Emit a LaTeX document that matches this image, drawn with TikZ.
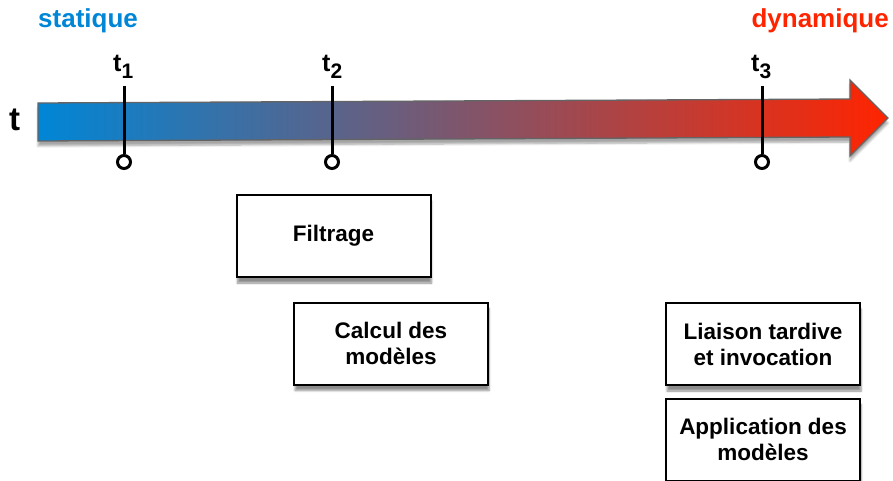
\documentclass[tikz,border=0pt]{standalone}
\usepackage{fontspec}
\setmainfont{Liberation Sans}
\usetikzlibrary{shadows.blur}
\definecolor{cblue}{RGB}{0,134,214}
\definecolor{cmid}{RGB}{150,72,135}
\definecolor{cred}{RGB}{255,36,0}
\definecolor{cedge}{RGB}{100,100,100}
\begin{document}
\begin{tikzpicture}[x=1pt,y=-1pt,
  stagebox/.style={draw=black,line width=2pt,fill=white,minimum width=194pt,minimum height=82pt,
    align=center,font=\fontsize{22.5}{26}\selectfont\bfseries,
    blur shadow={shadow blur steps=6,shadow xshift=1pt,shadow yshift=-6pt,shadow opacity=45}},
  ticklabel/.style={anchor=base west,inner sep=0pt,font=\fontsize{25}{25}\selectfont\bfseries},
  tickline/.style={line width=3pt,black},
  tickend/.style={circle,draw=black,line width=3pt,fill=white,minimum size=13pt,inner sep=0pt}]
\useasboundingbox (0,0) rectangle (893,481);
% arrow
\shade[left color=cblue,middle color=cmid,right color=cred,draw=cedge,line width=1.3pt,
  blur shadow={shadow blur steps=6,shadow xshift=0pt,shadow yshift=-5pt,shadow opacity=35}]
  (38,103) -- (850,99) -- (850,80) -- (888,118) -- (850,156) -- (850,137) -- (38,141) -- cycle;
% titles
\node[anchor=base west,inner sep=0pt,text=cblue,font=\fontsize{26}{26}\selectfont\bfseries] (stat) at (38,28) {statique};
\node[anchor=base east,inner sep=0pt,text=cred,font=\fontsize{26}{26}\selectfont\bfseries] (dyn) at (889,28) {dynamique};
\node[anchor=base west,inner sep=0pt,font=\fontsize{33}{33}\selectfont\bfseries] (tt) at (9,131) {t};
% ticks
\foreach \n/\x/\lx in {1/124/113,2/332/322,3/762/751}{
  \node[ticklabel] (lab\n) at (\lx,72) {t\raisebox{-7pt}{\fontsize{21}{21}\selectfont\n}};
  \coordinate (top\n) at (\x,86);
  \node[tickend] (end\n) at (\x,162) {};
  \draw[tickline] (top\n) -- (end\n.north);
}
% boxes
\node[stagebox] (filt) at (333.5,236) {Filtrage};
\node[stagebox] (calc) at (391,343.5) {Calcul des\\modèles};
\node[stagebox] (liai) at (763,344) {Liaison tardive\\et invocation};
\node[stagebox] (appl) at (763,439.5) {Application des\\modèles};
\end{tikzpicture}
\end{document}
